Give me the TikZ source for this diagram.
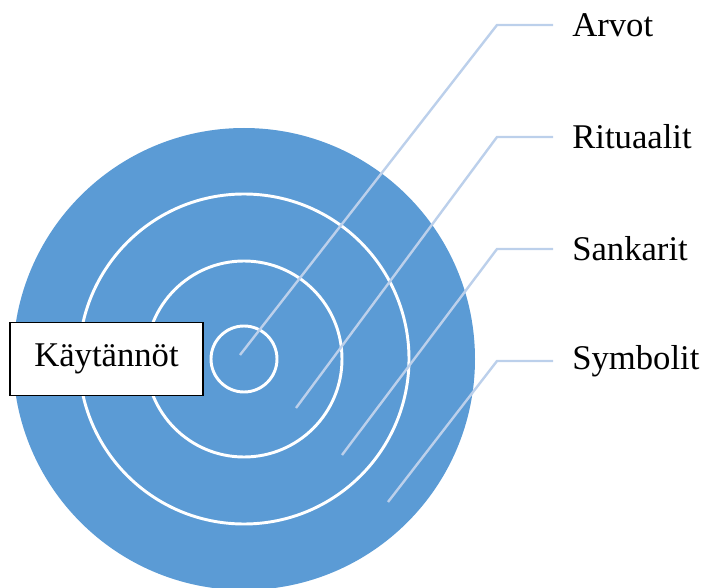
\documentclass[tikz,border=0pt]{standalone}
\usepackage{fontspec}
\setmainfont{Liberation Serif}
\definecolor{ringblue}{HTML}{5B9BD5}
\definecolor{leadblue}{HTML}{BCD0EB}
\begin{document}
\begin{tikzpicture}[x=0.75pt,y=-0.75pt,
  ring/.style={draw=white,line width=2.2pt},
  leader/.style={draw=leadblue,line width=1.8pt},
  lbl/.style={anchor=west,inner sep=0pt,font=\fontsize{26}{30}\selectfont}]
\useasboundingbox (0,0) rectangle (704,588);
\coordinate (c) at (244,359);
\fill[ringblue] (c) circle[radius=231];
\draw[ring] (c) circle[radius=165];
\draw[ring] (c) circle[radius=98];
\draw[ring] (c) circle[radius=33];
\coordinate (a0) at (240,355);
\coordinate (a1) at (497,25);
\coordinate (a2) at (553,25);
\coordinate (r0) at (296,408);
\coordinate (r1) at (497,137);
\coordinate (r2) at (553,137);
\coordinate (s0) at (342,455);
\coordinate (s1) at (497,249);
\coordinate (s2) at (553,249);
\coordinate (y0) at (388,502);
\coordinate (y1) at (497,361);
\coordinate (y2) at (553,361);
\draw[leader] (a0) -- (a1) -- (a2);
\draw[leader] (r0) -- (r1) -- (r2);
\draw[leader] (s0) -- (s1) -- (s2);
\draw[leader] (y0) -- (y1) -- (y2);
\node[lbl] (arvot) at (572,25) {Arvot};
\node[lbl] (rituaalit) at (572,137) {Rituaalit};
\node[lbl] (sankarit) at (572,249) {Sankarit};
\node[lbl] (symbolit) at (572,361) {Symbolit};
\node[draw=black,fill=white,line width=0.9pt,minimum width=193*0.75pt,minimum height=73*0.75pt,
  inner sep=0pt,font=\fontsize{26}{30}\selectfont] (kaytannot) at (106.5,359) {Käytännöt};
\end{tikzpicture}
\end{document}
